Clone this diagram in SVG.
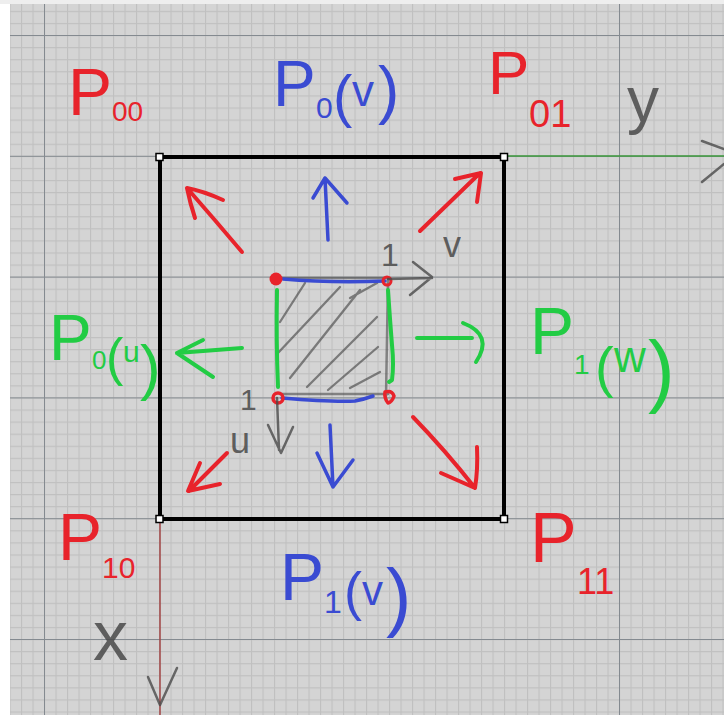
<svg xmlns="http://www.w3.org/2000/svg" width="724" height="715" viewBox="0 0 724 715">
<style>
.lbl{font-family:"Liberation Sans","DejaVu Sans",sans-serif}
.red{fill:#e8232b}
.blue{fill:#3a4bd2}
.green{fill:#22cc44}
.gray{fill:#4a4a4a;opacity:0.85}
.ar{fill:none;stroke:#e8232b;stroke-width:4;stroke-linecap:round;stroke-linejoin:round}
.ab{fill:none;stroke:#3a4bd2;stroke-width:3.5;stroke-linecap:round;stroke-linejoin:round}
.ag{fill:none;stroke:#22cc44;stroke-width:4;stroke-linecap:round;stroke-linejoin:round}
.pen{fill:none;stroke:#4a4a4a;stroke-width:2.5;stroke-linecap:round;stroke-linejoin:round;opacity:0.8}
.hatch{fill:none;stroke:#4a4a4a;stroke-width:2.3;stroke-linecap:round;opacity:0.65}
.handle{fill:#fff;stroke:#000;stroke-width:1.5}
</style>
<defs>
<pattern id="minor" x="44" y="35" width="11.5" height="12.08" patternUnits="userSpaceOnUse">
<path d="M0 0.5H11.5M0.5 0V12.08" stroke="#c0c0c0" stroke-width="1.2" fill="none"/>
</pattern>
<pattern id="major" x="44" y="35" width="115" height="120.8" patternUnits="userSpaceOnUse">
<path d="M0 0.5H115M0.5 0V120.8" stroke="#848a90" stroke-width="1" fill="none"/>
</pattern>
</defs>
<g id="background">
<rect x="0" y="0" width="724" height="715" fill="#ffffff"/>
<rect x="0" y="0" width="724" height="4" fill="#eeeeee"/>
<rect x="10" y="4" width="714" height="711" fill="#d4d4d4"/>
<rect x="10" y="4" width="714" height="711" fill="url(#minor)"/>
<rect x="10" y="4" width="714" height="711" fill="url(#major)"/>
</g>
<g id="axes">
<line x1="504" y1="156" x2="724" y2="156" stroke="#3c9a3c" stroke-width="1.5"/>
<line x1="160" y1="519" x2="160" y2="715" stroke="#a04545" stroke-width="1.5"/>
<path class="pen" d="M702 141 L724 149 M702 182 L724 164"/>
<path class="pen" d="M148 677 L160 705 L177 668"/>
</g>
<g id="outer-square">
<rect x="160" y="157" width="344" height="362" fill="none" stroke="#000" stroke-width="4"/>
<rect class="handle" x="156" y="153.5" width="7" height="7"/>
<rect class="handle" x="500.5" y="153.5" width="7" height="7"/>
<rect class="handle" x="156" y="515.5" width="7" height="7"/>
<rect class="handle" x="500.5" y="515.5" width="7" height="7"/>
</g>
<g id="inner-patch">
<path class="pen" d="M278 278 L388 278 M388 280 L386 396 M280 394 L388 394" style="opacity:0.6"/>
<path class="hatch" d="M280 322 L305 283 M278 353 L340 287 M290 378 L360 290 M307 387 L377 317 M328 390 L378 347 M350 388 L380 372 M350 298 L377 283"/>
<path class="ab" d="M283 279 Q330 283 385 281"/>
<path class="ab" d="M282 398 Q330 402 355 401 Q365 399 373 396"/>
<path class="ag" d="M277 290 Q276 340 278 387"/>
<path class="ag" d="M388 290 Q390 320 392 345 Q394 365 392 380 L389 382"/>
<circle cx="276" cy="279" r="6.5" fill="#e8232b"/>
<circle cx="387" cy="281" r="4" fill="none" stroke="#e8232b" stroke-width="3"/>
<circle cx="278" cy="398" r="5" fill="none" stroke="#e8232b" stroke-width="3.5"/>
<path d="M385 392 Q392 390 394 396 Q392 402 388 403 Q384 398 385 392 Z" fill="none" stroke="#e8232b" stroke-width="3.5" stroke-linejoin="round"/>
<path class="pen" d="M388 279 L432 278 M413 262 L432 277 L410 295"/>
<path class="pen" d="M277 398 L279 450 M268 425 L281 453 L293 427"/>
<text class="lbl gray" x="381" y="266" font-size="32">1</text>
<text class="lbl gray" x="240" y="410" font-size="30">1</text>
<text class="lbl gray" x="443" y="257" font-size="36">v</text>
<text class="lbl gray" x="230" y="453" font-size="36">u</text>
</g>
<g id="connectors">
<path class="ar" d="M242 252 Q215 220 187 188 M223 200 Q203 191 187 188 Q190 203 195 218"/>
<path class="ar" d="M420 231 L480 173 M455 179 L481 173 L477 202"/>
<path class="ar" d="M227 453 L189 491 M200 463 L188 491 L220 484"/>
<path class="ar" d="M413 417 Q445 450 475 488 M477 447 Q478 470 475 488 L441 473"/>
<path class="ab" d="M328 240 L325 178 M313 198 L325 178 L347 203"/>
<path class="ab" d="M330 425 L333 487 M317 453 L333 487 L353 460"/>
<path class="ag" d="M242 348 L177 353 M203 340 L177 353 L213 377"/>
<path class="ag" d="M417 338 L472 338 M463 323 Q494 335 476 362"/>
</g>
<g id="P00"><text class="lbl red" x="68" y="115" font-size="66">P<tspan x="112" y="121" font-size="28">00</tspan></text></g>
<g id="P01"><text class="lbl red" x="488" y="94" font-size="62">P<tspan x="529" y="127" font-size="38">01</tspan></text></g>
<g id="P10"><text class="lbl red" x="58" y="560" font-size="66">P<tspan x="102" y="578" font-size="30">10</tspan></text></g>
<g id="P11"><text class="lbl red" x="530" y="562" font-size="70">P<tspan x="577" y="594" font-size="36">11</tspan></text></g>
<g id="P0v"><text class="lbl blue" x="273" y="106" font-size="64">P<tspan x="316" y="118" font-size="30">0</tspan><tspan x="333" y="116" font-size="58">(</tspan><tspan x="352" y="106" font-size="44">v</tspan><tspan x="378" y="112" font-size="64">)</tspan></text></g>
<g id="P1v"><text class="lbl blue" x="280" y="600" font-size="66">P<tspan x="324" y="613" font-size="32">1</tspan><tspan x="344" y="610" font-size="54">(</tspan><tspan x="362" y="605" font-size="42">v</tspan><tspan x="386" y="622" font-size="76">)</tspan></text></g>
<g id="P0u"><text class="lbl green" x="49" y="360" font-size="64">P<tspan x="92" y="369" font-size="26">0</tspan><tspan x="106" y="375" font-size="52">(</tspan><tspan x="123" y="362" font-size="30">u</tspan><tspan x="140" y="388" font-size="62">)</tspan></text></g>
<g id="P1w"><text class="lbl green" x="530" y="354" font-size="66">P<tspan x="574" y="374" font-size="28">1</tspan><tspan x="595" y="386" font-size="56">(</tspan><tspan x="614" y="372" font-size="44">w</tspan><tspan x="648" y="397" font-size="80">)</tspan></text></g>
<g id="axis-labels">
<text class="lbl gray" x="627" y="122" font-size="64">y</text>
<text class="lbl gray" x="93" y="660" font-size="70">x</text>
</g>
</svg>
